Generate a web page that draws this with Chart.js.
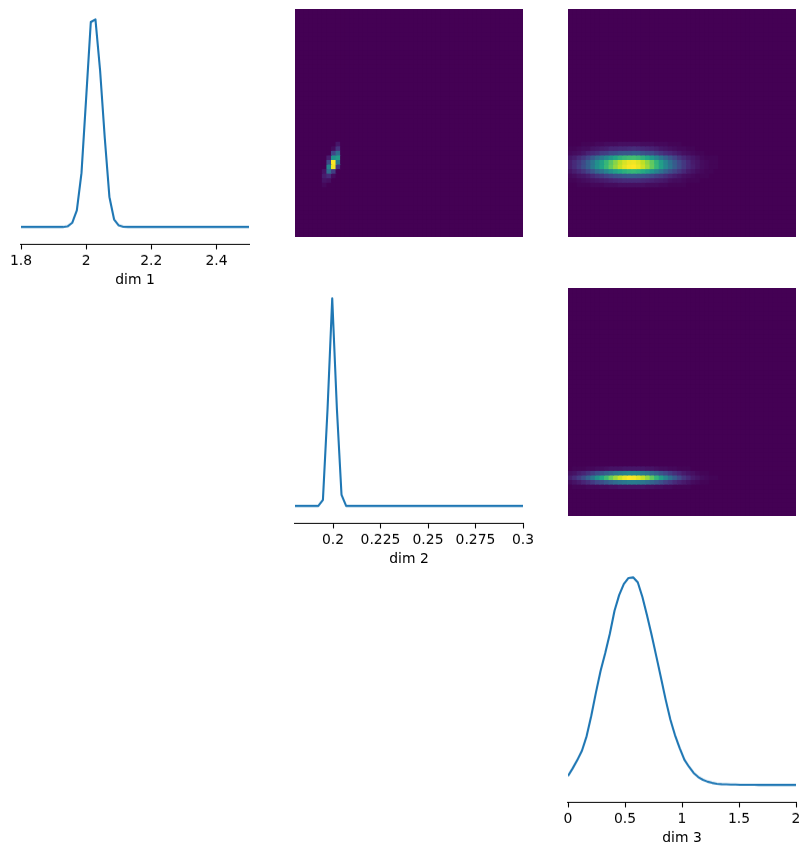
<!DOCTYPE html>
<html>
<head>
<meta charset="utf-8">
<title>pairplot</title>
<script src="https://cdn.jsdelivr.net/npm/chart.js@4.4.1/dist/chart.umd.min.js"></script>
<style>
  html, body { margin: 0; padding: 0; background: #fff; }
  #fig { position: relative; width: 810px; height: 855px; overflow: hidden; }
  #fig canvas { position: absolute; }
</style>
</head>
<body>
<div id="fig"></div>
<script>
// --- data ---------------------------------------------------------------
const dim1Limits = [1.8, 2.5];
const dim2Limits = [0.18, 0.3];
const dim3Limits = [0, 2];

const dim1Ticks = [1.8, 2, 2.2, 2.4];
const dim1TickLabels = ['1.8', '2', '2.2', '2.4'];
const dim2Ticks = [0.2, 0.225, 0.25, 0.275, 0.3];
const dim2TickLabels = ['0.2', '0.225', '0.25', '0.275', '0.3'];
const dim3Ticks = [0, 0.5, 1, 1.5, 2];
const dim3TickLabels = ['0', '0.5', '1', '1.5', '2'];

const nBins = 50;

// 1-D densities on 50 evenly spaced points over each dim's limits (relative height)
const dim1Density = [
  0, 0, 0, 0, 0, 0, 0, 0, 0, 0,
  0.003, 0.02, 0.08, 0.26, 0.62, 0.987, 1.0, 0.754, 0.43, 0.145,
  0.037, 0.008, 0.001, 0, 0, 0, 0, 0, 0, 0,
  0, 0, 0, 0, 0, 0, 0, 0, 0, 0,
  0, 0, 0, 0, 0, 0, 0, 0, 0, 0
];
const dim2Density = [
  0, 0, 0, 0, 0, 0, 0.029, 0.47, 1.0, 0.47,
  0.053, 0, 0, 0, 0, 0, 0, 0, 0, 0,
  0, 0, 0, 0, 0, 0, 0, 0, 0, 0,
  0, 0, 0, 0, 0, 0, 0, 0, 0, 0,
  0, 0, 0, 0, 0, 0, 0, 0, 0, 0
];
const dim3Density = [
  0.043, 0.08, 0.12, 0.165, 0.235, 0.333, 0.445, 0.55, 0.635, 0.73,
  0.84, 0.915, 0.968, 0.997, 1.0, 0.976, 0.905, 0.815, 0.72, 0.618,
  0.515, 0.41, 0.315, 0.24, 0.178, 0.122, 0.088, 0.058, 0.038, 0.025,
  0.016, 0.01, 0.006, 0.004, 0.003, 0.002, 0.002, 0.001, 0.001, 0.001,
  0.001, 0, 0, 0, 0, 0, 0, 0, 0, 0
];

// 2-D histograms, percent of the brightest cell. Rows are bin indices
// counted from the bottom, every row starts at the given column; other cells are 0.
// dim 2 (x) against dim 1 (y)
const hist21Rows = [11, 12, 13, 14, 15, 16, 17, 18, 19, 20];
const hist21ColStart = 6;
const hist21Values = [
  [2, 0, 0, 0],
  [5, 4, 0, 0],
  [8, 12, 3, 0],
  [5, 35, 18, 0],
  [0, 45, 98, 15],
  [0, 22, 100, 40],
  [0, 8, 50, 55],
  [0, 0, 20, 35],
  [0, 0, 3, 15],
  [0, 0, 0, 6]
];

// dim 3 (x) against dim 1 (y)
const hist31Rows = [11, 12, 13, 14, 15, 16, 17, 18, 19, 20];
const hist31ColStart = 0;
const hist31Values = [
  [0, 0, 1, 1, 1, 2, 2, 2, 3, 3, 3, 4, 4, 4, 4, 4, 4, 3, 3, 3, 2, 2, 1, 1, 1, 1, 0, 0, 0, 0, 0, 0, 0, 0],
  [1, 1, 2, 3, 4, 5, 6, 7, 8, 9, 10, 11, 12, 12, 12, 12, 11, 10, 9, 8, 7, 6, 4, 3, 3, 2, 1, 1, 1, 0, 0, 0, 0, 0],
  [2, 3, 5, 6, 8, 11, 14, 16, 19, 21, 24, 25, 27, 28, 28, 27, 26, 24, 21, 18, 16, 13, 10, 8, 6, 4, 3, 2, 1, 1, 1, 0, 0, 0],
  [5, 8, 11, 15, 20, 26, 33, 38, 44, 50, 55, 60, 63, 65, 66, 64, 61, 56, 50, 44, 37, 30, 24, 19, 15, 11, 7, 5, 3, 2, 1, 1, 0, 0],
  [8, 12, 17, 23, 30, 40, 50, 58, 67, 76, 84, 91, 96, 99, 100, 97, 92, 85, 76, 66, 56, 46, 37, 29, 22, 16, 11, 8, 5, 3, 2, 1, 1, 0],
  [8, 12, 16, 22, 30, 39, 49, 57, 66, 74, 82, 89, 94, 97, 98, 95, 90, 83, 75, 65, 55, 45, 36, 28, 21, 16, 11, 7, 5, 3, 2, 1, 1, 0],
  [6, 8, 12, 16, 21, 28, 35, 41, 47, 53, 59, 64, 67, 69, 70, 68, 64, 60, 53, 46, 39, 32, 26, 20, 15, 11, 8, 6, 4, 2, 1, 1, 1, 0],
  [2, 3, 4, 6, 9, 11, 13, 17, 18, 22, 23, 26, 27, 27, 29, 28, 25, 23, 22, 18, 15, 12, 10, 8, 6, 4, 3, 2, 1, 1, 0, 0, 0, 0],
  [1, 1, 2, 3, 3, 5, 6, 7, 8, 10, 10, 11, 11, 12, 13, 12, 11, 10, 9, 8, 6, 5, 4, 3, 2, 2, 1, 1, 0, 0, 0, 0, 0, 0],
  [0, 0, 0, 1, 1, 1, 2, 2, 3, 3, 3, 4, 4, 4, 4, 4, 3, 3, 3, 2, 2, 2, 1, 1, 1, 0, 0, 0, 0, 0, 0, 0, 0, 0]
];

// dim 3 (x) against dim 2 (y)
const hist32Rows = [6, 7, 8, 9, 10];
const hist32ColStart = 0;
const hist32Values = [
  [0, 1, 1, 1, 2, 2, 2, 3, 3, 4, 4, 5, 5, 5, 5, 5, 5, 4, 4, 3, 3, 2, 2, 1, 1, 1, 1, 0, 0, 0, 0, 0, 0, 0],
  [3, 5, 7, 10, 13, 17, 21, 24, 28, 32, 35, 38, 40, 42, 42, 41, 39, 36, 32, 28, 24, 19, 16, 12, 9, 7, 5, 3, 2, 1, 1, 0, 0, 0],
  [8, 12, 17, 23, 31, 40, 51, 59, 68, 77, 85, 92, 97, 100, 99, 96, 91, 84, 75, 65, 55, 45, 36, 28, 21, 15, 11, 7, 5, 3, 2, 1, 1, 0],
  [4, 5, 8, 10, 14, 18, 23, 26, 30, 34, 38, 41, 43, 45, 45, 44, 41, 38, 34, 30, 25, 21, 17, 13, 10, 7, 5, 4, 2, 1, 1, 0, 0, 0],
  [0, 1, 1, 1, 2, 2, 3, 3, 4, 5, 5, 5, 6, 6, 6, 6, 6, 5, 5, 4, 3, 3, 2, 2, 1, 1, 1, 0, 0, 0, 0, 0, 0, 0]
];

// --- layout / style -----------------------------------------------------
const COL_X = [21, 295, 568];
const ROW_Y = [9, 288, 567];
const BOX = 228;
const SPINE_OFFSET = 7;   // bottom spine pushed outward
const AXIS_H = 44.5;
const PAD_X = 30;
const PAD_TOP = 5;
const LINE_COLOR = '#1f77b4';

Chart.defaults.font.family = "'DejaVu Sans', sans-serif";
Chart.defaults.font.size = 13.9;
Chart.defaults.color = '#000';

const VIRIDIS = ['#440154', '#482475', '#414487', '#355f8d', '#2a788e', '#21918c',
                 '#22a884', '#44bf70', '#7ad151', '#bddf26', '#fde725'];

function viridis(t) {
  t = Math.max(0, Math.min(1, t));
  const p = t * (VIRIDIS.length - 1);
  const i = Math.min(Math.floor(p), VIRIDIS.length - 2);
  const f = p - i;
  const a = VIRIDIS[i], b = VIRIDIS[i + 1];
  const ch = (h, k) => parseInt(h.substr(1 + 2 * k, 2), 16);
  const c = [0, 1, 2].map(k => Math.round(ch(a, k) + (ch(b, k) - ch(a, k)) * f));
  return `rgb(${c[0]},${c[1]},${c[2]})`;
}

function addCanvas(left, top, w, h) {
  const c = document.createElement('canvas');
  c.width = w; c.height = h;
  c.style.left = left + 'px'; c.style.top = top + 'px';
  c.style.width = w + 'px'; c.style.height = h + 'px';
  document.getElementById('fig').appendChild(c);
  return c;
}

function densityPanel(col, row, lim, ticks, tickLabels, title, values) {
  const left = COL_X[col], top = ROW_Y[row];
  const h = PAD_TOP + BOX + SPINE_OFFSET + AXIS_H + 2;
  const canvas = addCanvas(left - PAD_X, top - PAD_TOP, BOX + 2 * PAD_X, h);

  const step = (lim[1] - lim[0]) / (values.length - 1);
  const points = values.map((v, i) => ({ x: lim[0] + i * step, y: v }));

  // matplotlib style 5% margins, plus room for the outward spine
  const lo = Math.min(...values), hi = Math.max(...values), r = hi - lo;
  const yMax = hi + 0.05 * r;
  const yMin = lo - 0.05 * r - SPINE_OFFSET * (1.1 * r / BOX);

  new Chart(canvas, {
    type: 'line',
    data: {
      datasets: [{
        data: points,
        borderColor: LINE_COLOR,
        borderWidth: 2.1,
        pointRadius: 0,
        tension: 0,
        borderJoinStyle: 'round',
        fill: false
      }]
    },
    options: {
      responsive: false,
      animation: false,
      devicePixelRatio: 1,
      events: [],
      layout: { padding: { left: PAD_X, right: PAD_X, top: PAD_TOP, bottom: 2 } },
      plugins: { legend: { display: false }, tooltip: { enabled: false } },
      scales: {
        x: {
          type: 'linear',
          min: lim[0],
          max: lim[1],
          afterBuildTicks: s => { s.ticks = ticks.map(v => ({ value: v })); },
          afterFit: s => { s.height = AXIS_H; },
          border: { display: true, color: '#000', width: 1.1 },
          grid: {
            drawOnChartArea: false,
            drawTicks: true,
            tickLength: 5,
            tickWidth: 1.1,
            tickColor: '#000'
          },
          ticks: {
            autoSkip: false,
            maxRotation: 0,
            padding: 4,
            color: '#000',
            callback: (v, i) => tickLabels[i]
          },
          title: { display: true, text: title, color: '#000', padding: 0 }
        },
        y: { type: 'linear', display: false, min: yMin, max: yMax }
      }
    }
  });
}

function histPanel(col, row, xLim, yLim, rows, colStart, values) {
  const canvas = addCanvas(COL_X[col], ROW_Y[row], BOX, BOX);
  const dx = (xLim[1] - xLim[0]) / nBins;
  const dy = (yLim[1] - yLim[0]) / nBins;

  const cells = [];
  for (let j = 0; j < nBins; j++) {
    const r = rows.indexOf(j);
    for (let i = 0; i < nBins; i++) {
      const c = i - colStart;
      const v = (r >= 0 && c >= 0 && c < values[r].length) ? values[r][c] : 0;
      cells.push({ x: xLim[0] + (i + 0.5) * dx, y: yLim[0] + (j + 0.5) * dy, v: v });
    }
  }

  new Chart(canvas, {
    type: 'scatter',
    data: {
      datasets: [{
        data: cells,
        pointStyle: 'rect',
        pointBorderWidth: 0,
        pointBackgroundColor: ctx => viridis(ctx.raw.v / 100),
        pointRadius: ctx => {
          const xs = ctx.chart.scales.x;
          const w = Math.abs(xs.getPixelForValue(xLim[0] + dx) - xs.getPixelForValue(xLim[0]));
          return (w + 1) / Math.SQRT2;
        }
      }]
    },
    options: {
      responsive: false,
      animation: false,
      devicePixelRatio: 1,
      events: [],
      layout: { padding: 0 },
      plugins: { legend: { display: false }, tooltip: { enabled: false } },
      scales: {
        x: { type: 'linear', display: false, min: xLim[0], max: xLim[1] },
        y: { type: 'linear', display: false, min: yLim[0], max: yLim[1] }
      }
    }
  });
}

// diagonal
densityPanel(0, 0, dim1Limits, dim1Ticks, dim1TickLabels, 'dim 1', dim1Density);
densityPanel(1, 1, dim2Limits, dim2Ticks, dim2TickLabels, 'dim 2', dim2Density);
densityPanel(2, 2, dim3Limits, dim3Ticks, dim3TickLabels, 'dim 3', dim3Density);

// upper triangle
histPanel(1, 0, dim2Limits, dim1Limits, hist21Rows, hist21ColStart, hist21Values);
histPanel(2, 0, dim3Limits, dim1Limits, hist31Rows, hist31ColStart, hist31Values);
histPanel(2, 1, dim3Limits, dim2Limits, hist32Rows, hist32ColStart, hist32Values);
</script>
</body>
</html>
